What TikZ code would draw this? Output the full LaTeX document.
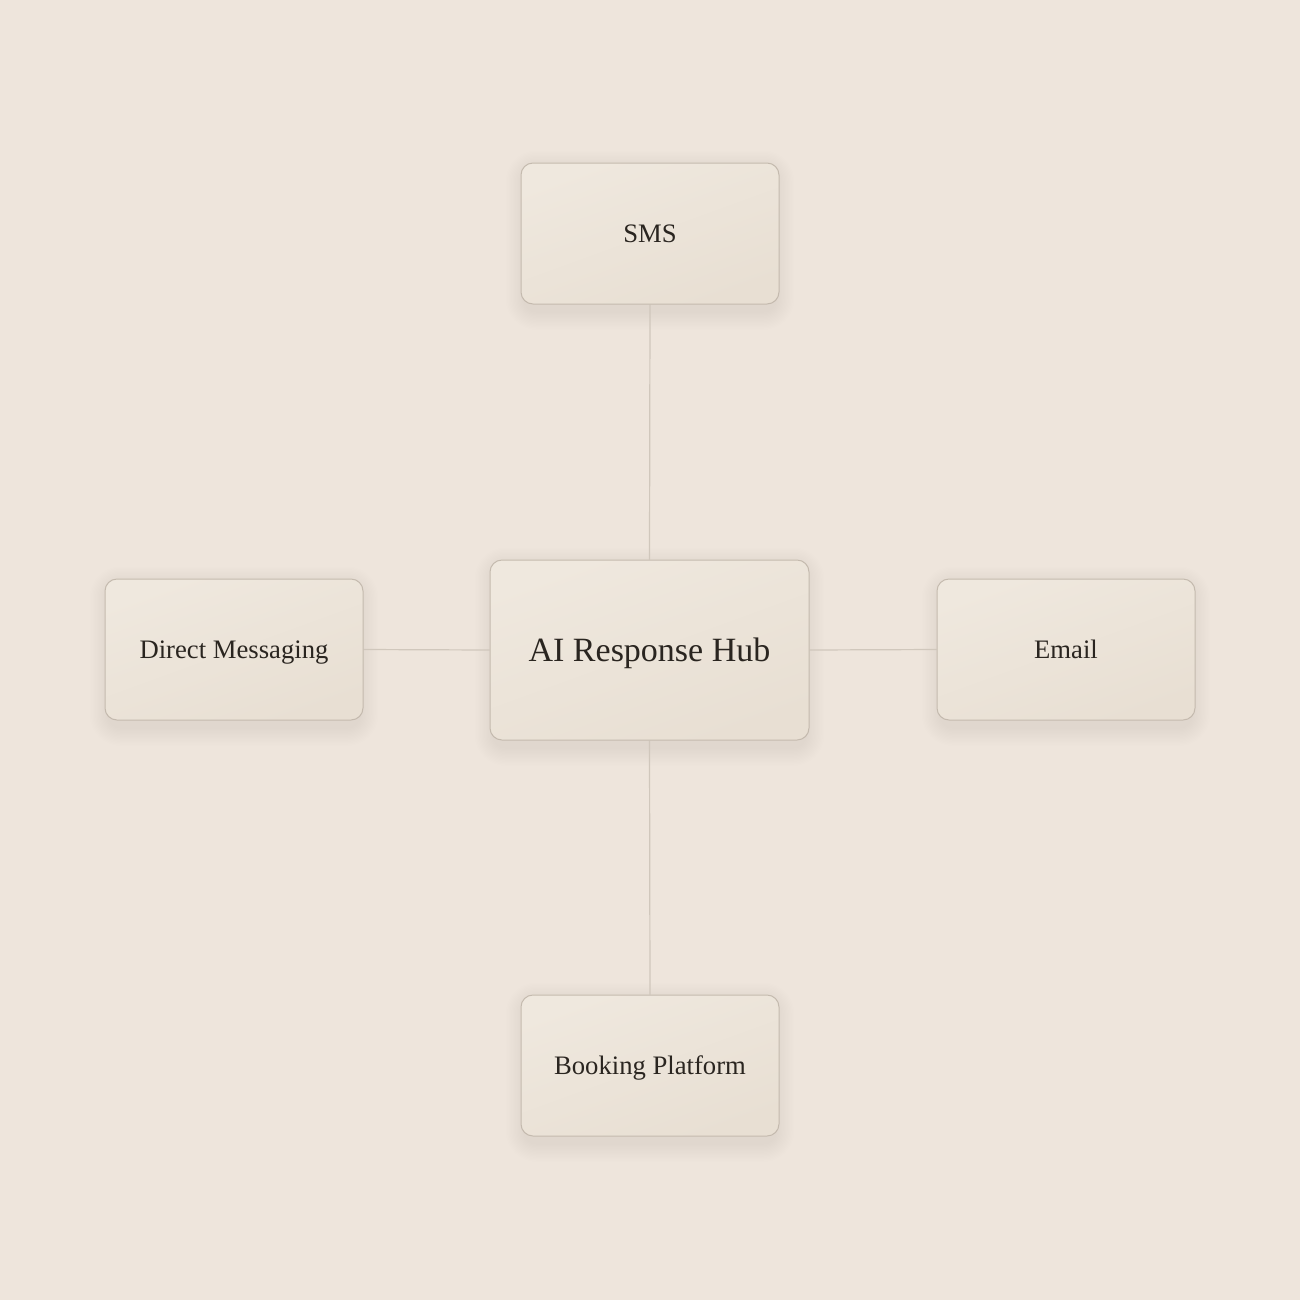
\documentclass[tikz,border=0pt]{standalone}
\usepackage{fontspec}
\setmainfont{Liberation Serif}
\usetikzlibrary{calc}
\definecolor{bg}{HTML}{EEE5DC}
\definecolor{boxtop}{HTML}{EFE8DE}
\definecolor{boxbot}{HTML}{E8DFD3}
\definecolor{boxline}{HTML}{C4BAAE}
\definecolor{conn}{HTML}{D0C7BC}
\definecolor{ink}{HTML}{2A2520}
\definecolor{shade}{HTML}{5A4E40}
\pgfdeclarelayer{bgfill}
\pgfdeclarelayer{shadowlayer}
\pgfsetlayers{bgfill,shadowlayer,main}
\tikzset{
  card/.style={rectangle, rounded corners=9pt, draw=boxline, line width=0.75pt,
    top color=boxtop, bottom color=boxbot, shading angle=20,
    text=ink, align=center, inner sep=0pt, text depth=0pt},
  small/.style={card, minimum width=193.5pt, minimum height=105.75pt, text height=13.2pt, font=\fontsize{20}{24}\selectfont},
  hub/.style={card, minimum width=239.25pt, minimum height=135pt, text height=16.8pt, font=\fontsize{25.5}{30}\selectfont},
  link/.style={draw=conn, line width=0.9pt},
  softshadow/.style={fill=shade, fill opacity=0.005, draw=none}
}
\newcommand{\cardshadow}[1]{%
  \begin{pgfonlayer}{shadowlayer}
  \foreach \k in {1,...,14}{
    \path[softshadow, rounded corners={9pt+\k*1pt}]
      ($(#1.south west)+({3pt-\k*1pt},{-5pt-\k*1pt})$) rectangle
      ($(#1.north east)+({-3pt+\k*1pt},{-5pt+\k*1pt})$);
  }
  \end{pgfonlayer}}
\begin{document}
\begin{tikzpicture}[x=0.75pt,y=-0.75pt]
\begin{pgfonlayer}{bgfill}
\fill[bg] (0,0) rectangle (1300,1300);
\end{pgfonlayer}
\useasboundingbox (0,0) rectangle (1300,1300);
\node[hub] (hub) at (649.5,650) {AI Response Hub};
\node[small] (sms) at (650,233.5) {SMS};
\node[small] (book) at (650,1065.5) {Booking Platform};
\node[small] (dm) at (234,649.5) {Direct Messaging};
\node[small] (email) at (1066,649.5) {Email};
\cardshadow{hub}
\cardshadow{sms}
\cardshadow{book}
\cardshadow{dm}
\cardshadow{email}
\begin{pgfonlayer}{shadowlayer}
\path[link] (sms.south) -- (hub.north);
\path[link] (hub.south) -- (book.north);
\path[link] (dm.east) -- (hub.west);
\path[link] (hub.east) -- (email.west);
\end{pgfonlayer}
\end{tikzpicture}
\end{document}
